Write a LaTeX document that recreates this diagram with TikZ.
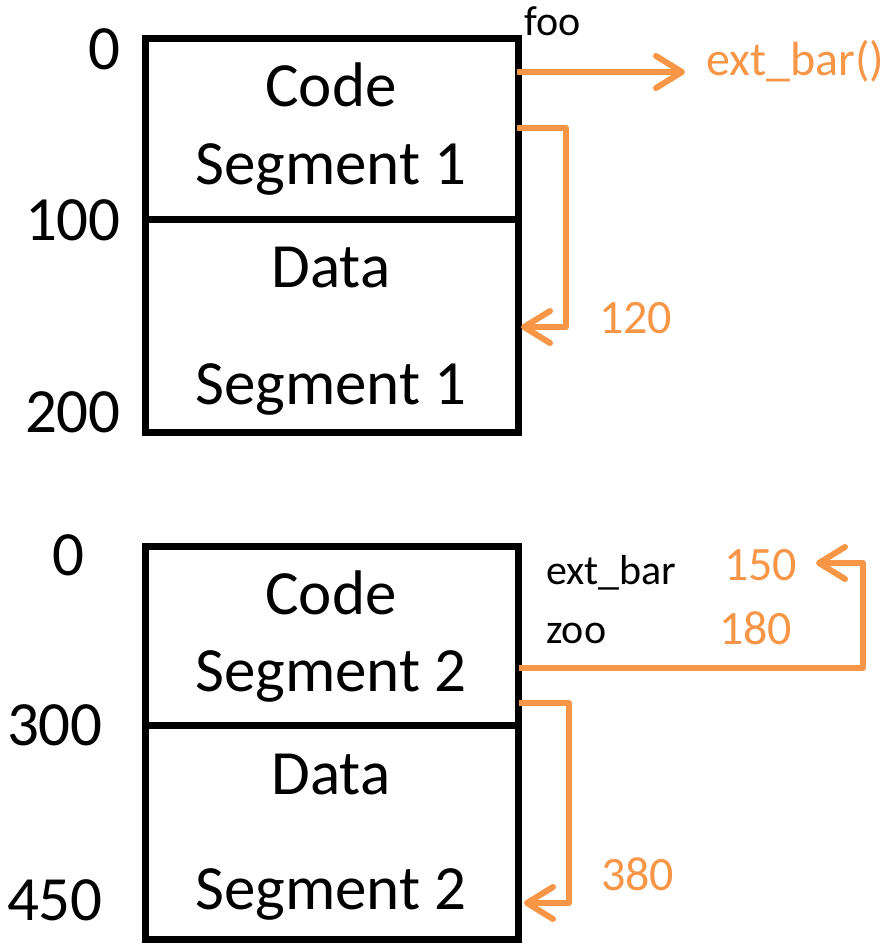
\documentclass[tikz,border=0pt]{standalone}
\usepackage{fontspec}
\setmainfont{Carlito}
\usetikzlibrary{arrows.meta}
\definecolor{accent}{HTML}{F79646}
\begin{document}
\begin{tikzpicture}[x=1pt,y=-1pt,
  seg/.style={draw=black,line width=7pt,minimum width=373pt,inner sep=0pt,outer sep=0pt},
  big/.style={font=\fontsize{63}{70}\selectfont,anchor=base,inner sep=0pt},
  addr/.style={font=\fontsize{63}{70}\selectfont,anchor=base east,inner sep=0pt},
  sym/.style={font=\fontsize{42}{48}\selectfont,anchor=base west,inner sep=0pt},
  val/.style={font=\fontsize{48}{54}\selectfont,text=accent,anchor=base west,inner sep=0pt},
  link/.style={draw=accent,line width=6pt,line join=round,
    -{Straight Barb[length=26pt,width=32pt,round]}}]
\useasboundingbox (0,0) rectangle (886,944);

% ---- first program: code and data segments ----
\node[seg,minimum height=180pt] (code1) at (331.5,129) {};
\node[seg,minimum height=213pt] (data1) at (331.5,325.5) {};
\node[big] (c1a) at (331,107) {Code};
\node[big] (c1b) at (331,184) {Segment 1};
\node[big] (d1a) at (331,287) {Data};
\node[big] (d1b) at (331,404) {Segment 1};
\node[addr] (a0) at (121,70) {0};
\node[addr] (a100) at (121,240) {100};
\node[addr] (a200) at (121,432) {200};

\node[sym] (foo) at (524,36) {foo};
\node[val] (extcall) at (706,76) {ext\_bar()};
\node[val] (v120) at (599,333) {120};

\coordinate (fooout) at (517,72);
\coordinate (fooend) at (685,72);
\coordinate (ref1) at (517,128);
\coordinate (tgt1) at (521,327);
\draw[link] (fooout) -- (fooend);
\draw[link] (ref1) -- (566,128) -- (566,327) -- (tgt1);

% ---- second program: code and data segments ----
\node[seg,minimum height=179pt] (code2) at (332,636) {};
\node[seg,minimum height=214pt] (data2) at (332,832.5) {};
\node[big] (c2a) at (331,614) {Code};
\node[big] (c2b) at (331,691) {Segment 2};
\node[big] (d2a) at (331,794) {Data};
\node[big] (d2b) at (331,909) {Segment 2};
\node[addr] (b0) at (85,575) {0};
\node[addr] (b300) at (103,745) {300};
\node[addr] (b450) at (103,920) {450};

\node[sym] (extbar) at (546,584) {ext\_bar};
\node[sym] (zoo) at (546,643) {zoo};
\node[val] (v150) at (724,580) {150};
\node[val] (v180) at (719,644) {180};
\node[val] (v380) at (601,890) {380};

\coordinate (ref2) at (519,668);
\coordinate (tgt2) at (816,563);
\coordinate (ref3) at (519,703);
\coordinate (tgt3) at (524,903);
\draw[link] (ref2) -- (863,668) -- (863,563) -- (tgt2);
\draw[link] (ref3) -- (569,703) -- (569,903) -- (tgt3);
\end{tikzpicture}
\end{document}
